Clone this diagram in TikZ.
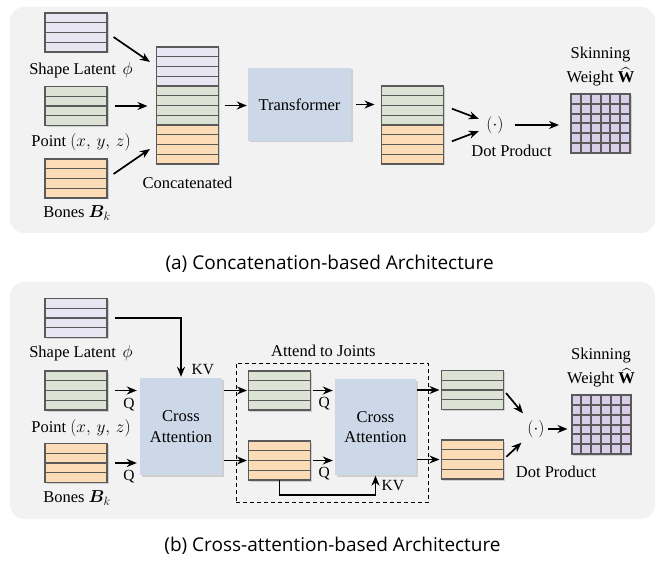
\documentclass[tikz,border=0pt]{standalone}
\usepackage{amsmath}
\usepackage{amssymb}
\usepackage{bm}
\usepackage{fontspec}
\setmainfont{Liberation Serif}
\newfontfamily\capfont{Open Sans}
\usetikzlibrary{positioning, arrows.meta, calc, fit, shadows}

\definecolor{latentc}{HTML}{E9E6F4}
\definecolor{pointc}{HTML}{DCE3D4}
\definecolor{bonec}{HTML}{FCDCB6}
\definecolor{blockc}{HTML}{CCD8E8}
\definecolor{gridc}{HTML}{D9CEE8}
\definecolor{linec}{HTML}{5A5A5A}
\definecolor{panelc}{HTML}{F2F2F2}

% a feature stack of four rows: name, placement, fill colour
\newcommand{\featstack}[3]{%
  \node[stackbox, fill=#3, #2] (#1) {};
  \foreach \r in {1,2,3}
    \draw[rowline] ($(#1.north west)!\r/4!(#1.south west)$) -- ($(#1.north east)!\r/4!(#1.south east)$);
}
% the 6x6 skinning weight grid: name, placement
\newcommand{\weightgrid}[2]{%
  \node[gridbox, #2] (#1) {};
  \foreach \i in {1,...,5} {
    \draw[gridline] ($(#1.north west)!\i/6!(#1.north east)$) -- ($(#1.south west)!\i/6!(#1.south east)$);
    \draw[gridline] ($(#1.north west)!\i/6!(#1.south west)$) -- ($(#1.north east)!\i/6!(#1.south east)$);
  }
}

\begin{document}
\begin{tikzpicture}[
    x=1pt, y=-1pt, % pixel-like coordinates, y pointing down
    node distance=0pt,
    every node/.style={inner sep=0pt},
    txt/.style={font=\fontsize{16.5}{20.5}\selectfont},
    lbl/.style={txt, text height=12pt, text depth=4pt},
    qlbl/.style={font=\fontsize{15.5}{18}\selectfont},
    shade/.style={drop shadow={opacity=0.3, shadow xshift=1.5pt, shadow yshift=-1.5pt}},
    stackbox/.style={shade, draw=linec, line width=1.3pt, outer sep=0pt, minimum width=62pt, minimum height=39pt},
    rowline/.style={draw=linec, line width=1.3pt},
    block/.style={txt, shade, fill=blockc, align=center},
    gridbox/.style={shade, draw=linec, line width=2pt, fill=gridc, outer sep=0pt, minimum size=59pt},
    gridline/.style={draw=linec, line width=2pt},
    arr/.style={-{Stealth[length=10pt, width=8pt]}, line width=1.7pt},
    dashbox/.style={draw=black, dash pattern=on 4pt off 3pt, line width=0.9pt, inner xsep=12.5pt, inner ysep=7.5pt},
    dotn/.style={font=\fontsize{19}{20}\selectfont, text height=13.5pt, text depth=5pt},
    caplbl/.style={font=\capfont\fontsize{19}{20}\selectfont, anchor=base},
    panel/.style={fill=panelc, rounded corners=14pt}
]
    \useasboundingbox (0,0) rectangle (667,564);

    % 0. Grey panels behind both architectures
    \fill[panel] (10,7) rectangle (655,233);
    \fill[panel] (10,282) rectangle (655,519);

    % ---------------- (a) concatenation ----------------
    % 1. Inputs, concatenated stack and transformer
    \featstack{lat1}{at={(76,32.5)}}{latentc}
    \featstack{pt1}{at={(76,106)}}{pointc}
    \featstack{bn1}{at={(76,178.5)}}{bonec}
    \node[lbl, below=10pt of lat1, xshift=5pt] (lat1l) {Shape Latent\, $\phi$};
    \node[lbl, below=9pt of pt1, xshift=5pt] (pt1l) {Point $(x,\,y,\,z)$};
    \node[lbl, below=7.7pt of bn1, xshift=1pt] (bn1l) {Bones $\bm{B}_k$};

    \featstack{catA}{at={(187.5,66.5)}}{latentc}
    \featstack{catB}{below=of catA}{pointc}
    \featstack{catC}{below=of catB}{bonec}
    \node[lbl, below=12.7pt of catC] (catl) {Concatenated};

    \node[block, minimum width=103pt, minimum height=73pt] (tf) at (299.5,104.5) {Transformer};

    % output stack, dot product and weights
    \featstack{outA}{at={(412.5,105.5)}}{pointc}
    \featstack{outB}{below=of outA}{bonec}
    \node[dotn] (dot1) at (495,125) {$(\cdot)$};
    \node[lbl, below=10pt of dot1, xshift=16.5pt] (dot1l) {Dot Product};
    \weightgrid{wgt1}{at={(600.5,123.5)}}
    \node[lbl, above=7pt of wgt1] (wgt1l) {Weight $\widehat{\mathbf{W}}$};
    \node[lbl, above=7.5pt of wgt1l] (skin1l) {Skinning};

    % 2. Arrows of (a)
    \draw[arr, shorten <=8pt, shorten >=8pt] (lat1.east) -- (catA.west);
    \draw[arr, shorten <=8pt, shorten >=9pt] (pt1.east) -- (pt1.east -| catB.west);
    \draw[arr, shorten <=8pt, shorten >=8pt] (bn1.east) -- (catC.west);
    \draw[arr, shorten <=6pt, shorten >=1pt] (catB.east) -- (catB.east -| tf.west);
    \draw[arr, shorten <=5pt, shorten >=7pt] (tf.east) -- (tf.east -| outA.west);
    \draw[arr, shorten <=9pt, shorten >=8pt] (outA.east) -- (dot1);
    \draw[arr, shorten <=9pt, shorten >=8pt] (outB.east) -- (dot1);
    \draw[arr, shorten <=11pt, shorten >=12pt] (dot1.east) -- (dot1.east -| wgt1.west);

    \node[caplbl] (capA) at (329.6,270) {(a) Concatenation-based Architecture};

    % ---------------- (b) cross attention ----------------
    % 3. Inputs and first cross attention
    \featstack{lat2}{at={(76,318)}}{latentc}
    \featstack{pt2}{at={(76,390.5)}}{pointc}
    \featstack{bn2}{at={(76,463)}}{bonec}
    \node[lbl, below=8pt of lat2, xshift=5pt] (lat2l) {Shape Latent\, $\phi$};
    \node[lbl, below=10.7pt of pt2, xshift=5pt] (pt2l) {Point $(x,\,y,\,z)$};
    \node[lbl, below=8pt of bn2, xshift=1pt] (bn2l) {Bones $\bm{B}_k$};

    \node[block, minimum width=82pt, minimum height=97pt] (ca1) at (181,426.5) {Cross\\Attention};

    % attend-to-joints block
    \featstack{gr2}{at={(279.5,390.5)}}{pointc}
    \featstack{or2}{at={(279.5,460.5)}}{bonec}
    \node[block, minimum width=81pt, minimum height=96pt] (ca2) at (375.5,427) {Cross\\Attention};
    \coordinate (loopc) at ($(or2.south)+(0,15)$);
    \node[dashbox, fit=(gr2)(ca2)(loopc)] (att) {};
    \node[lbl, above=2.5pt of att.north, xshift=-9pt] (attl) {Attend to Joints};

    % outputs
    \featstack{gr3}{at={(472.5,390)}}{pointc}
    \featstack{or3}{at={(472.5,459.5)}}{bonec}
    \node[dotn] (dot2) at (536,429) {$(\cdot)$};
    \node[lbl, below=27pt of dot2, xshift=20pt] (dot2l) {Dot Product};
    \weightgrid{wgt2}{at={(601,424.5)}}
    \node[lbl, above=7pt of wgt2] (wgt2l) {Weight $\widehat{\mathbf{W}}$};
    \node[lbl, above=7.5pt of wgt2l] (skin2l) {Skinning};

    % 4. Arrows of (b)
    \draw[arr, shorten <=8pt, shorten >=1pt] (lat2.east) -| (ca1.north);
    \node[qlbl, above right=3pt and 10.5pt of ca1.north] (kv1) {KV};
    \draw[arr, shorten <=8pt, shorten >=3pt] (pt2.east) -- (pt2.east -| ca1.west)
        node[qlbl, pos=0.67, below=6.5pt] (q1) {Q};
    \draw[arr, shorten <=8pt, shorten >=3pt] (bn2.east) -- (bn2.east -| ca1.west)
        node[qlbl, pos=0.67, below=6.5pt] (q2) {Q};

    \draw[arr, shorten <=2pt, shorten >=1.5pt] (ca1.east |- gr2.west) -- (gr2.west);
    \draw[arr, shorten <=2pt, shorten >=1.5pt] (ca1.east |- or2.west) -- (or2.west);
    \draw[arr, shorten <=2pt, shorten >=2pt] (gr2.east) -- (gr2.east -| ca2.west)
        node[qlbl, pos=0.56, below=6pt] (q3) {Q};
    \draw[arr, shorten <=2pt, shorten >=2pt] (or2.east) -- (or2.east -| ca2.west)
        node[qlbl, pos=0.56, below=6pt] (q4) {Q};
    \draw[arr, shorten >=0.5pt] (or2.south) -- (loopc) -| (ca2.south);
    \node[qlbl, below right=5pt and 6pt of ca2.south] (kv2) {KV};

    \draw[arr, shorten <=1pt, shorten >=2pt] (ca2.east |- gr3.west) -- (gr3.west);
    \draw[arr, shorten <=1pt, shorten >=2pt] (ca2.east |- or3.west) -- (or3.west);
    \draw[arr, shorten <=4pt, shorten >=8pt] (gr3.east) -- (dot2);
    \draw[arr, shorten <=4pt, shorten >=8pt] (or3.east) -- (dot2);
    \draw[arr, shorten <=3pt, shorten >=4pt] (dot2.east) -- (dot2.east -| wgt2.west);

    \node[caplbl] (capB) at (332.5,551.7) {(b) Cross-attention-based Architecture};
\end{tikzpicture}
\end{document}
